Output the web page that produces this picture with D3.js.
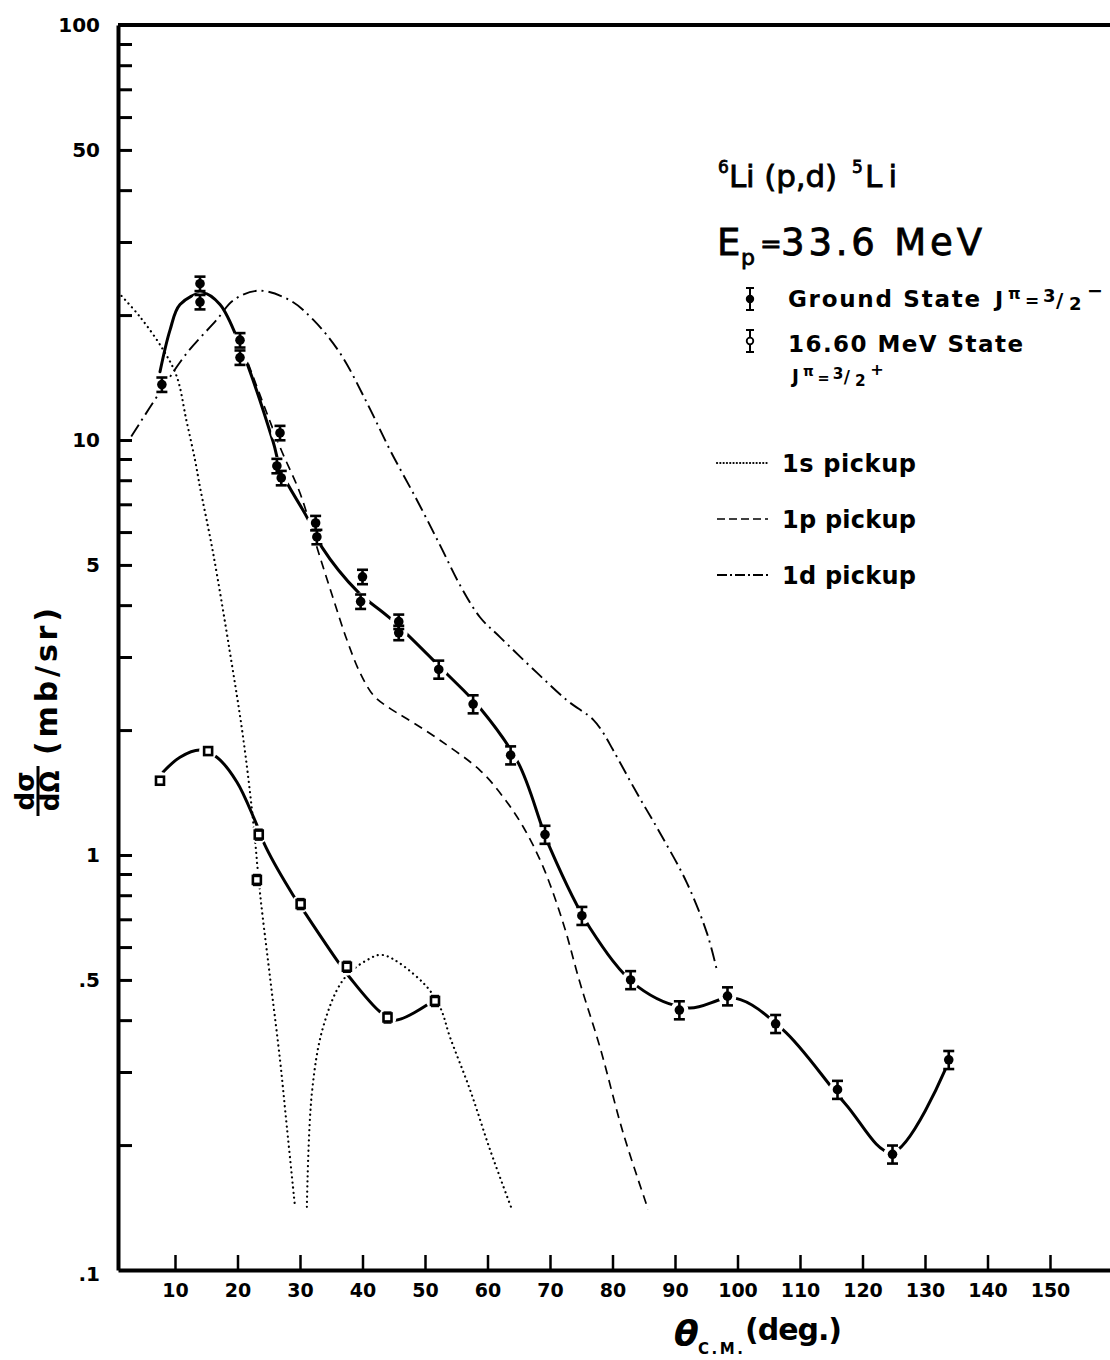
<!DOCTYPE html>
<html>
<head>
<meta charset="utf-8">
<script src="https://cdn.jsdelivr.net/npm/d3@7"></script>
<style>
  body { margin: 0; background: #fff; }
  svg text { font-family: "DejaVu Sans", sans-serif; fill: #000; }
</style>
</head>
<body>
<div id="chart"></div>
<script>
// 6Li(p,d)5Li at Ep = 33.6 MeV, angles in degrees (c.m.), dsigma/dOmega in mb/sr

// ground state data (two readings at several angles)
var groundAngles = [7.9, 14.0, 14.0, 20.4, 20.4, 26.8, 26.3, 27.0, 32.5, 32.7, 40.0, 39.7, 45.8, 45.8,
  52.2, 57.7, 63.7, 69.2, 75.1, 82.9, 90.7, 98.4, 106.1, 116.0, 124.8, 133.8];
var groundValues = [13.6, 23.8, 21.5, 17.4, 15.8, 10.4, 8.66, 8.10, 6.31, 5.84, 4.68, 4.08, 3.65, 3.43,
  2.80, 2.31, 1.74, 1.12, 0.714, 0.500, 0.423, 0.457, 0.392, 0.272, 0.190, 0.321];
var groundErrPct = [4, 4, 4, 4, 4, 4, 4, 4, 4, 4, 4, 4, 4, 4,
  5, 5, 5, 5, 5, 5, 5, 5, 5, 5, 5, 5];

// 16.60 MeV state data
var excitedAngles = [7.6, 15.3, 23.4, 23.1, 30.1, 37.5, 44.0, 51.6];
var excitedValues = [1.51, 1.78, 1.12, 0.871, 0.762, 0.538, 0.406, 0.445];
var excitedErrPct = [2, 2, 3, 3, 3, 3, 3, 3];

// hand drawn curve through the ground state points
var groundFitAngles = [7.6, 9.2, 10.8, 14.5, 17.2, 20.4, 25.7, 27.0, 31.1, 33.5, 39.3, 44.4, 53.2, 58.8,
  64.9, 70.0, 76.4, 84.1, 92.1, 99.6, 107.3, 117.2, 124.7, 133.2];
var groundFitValues = [14.6, 18.4, 21.2, 22.6, 21.2, 16.9, 9.9, 8.4, 6.52, 5.52, 4.30, 3.72, 2.76, 2.26,
  1.67, 1.04, 0.667, 0.481, 0.428, 0.452, 0.379, 0.252, 0.192, 0.303];

// hand drawn curve through the 16.60 MeV points
var excitedFitAngles = [8.1, 10.8, 14.0, 16.7, 19.9, 22.8, 24.6, 28.9, 30.8, 35.9, 38.0, 42.8, 45.2, 50.3];
var excitedFitValues = [1.585, 1.72, 1.79, 1.72, 1.50, 1.21, 1.04, 0.80, 0.725, 0.558, 0.506, 0.419, 0.400, 0.435];

// 1s pickup (two lobes)
var s1AAngles = [0.9, 4.4, 8.1, 10.3, 11.8, 13.2, 14.0, 16.1, 18.8, 20.9, 22.5, 23.6, 25.2, 26.8, 27.9, 29.2];
var s1AValues = [22.7, 19.8, 16.5, 14.2, 11.2, 8.95, 7.7, 5.34, 3.07, 1.92, 1.21, 0.81, 0.508, 0.321, 0.221, 0.142];
var s1BAngles = [31.1, 31.9, 33.7, 36.9, 40.7, 43.3, 49.7, 52.4, 54.0, 57.2, 60.4, 63.9];
var s1BValues = [0.142, 0.267, 0.385, 0.50, 0.558, 0.574, 0.492, 0.43, 0.364, 0.272, 0.195, 0.14];

// 1p pickup
var p1Angles = [20.9, 26.8, 30.0, 32.7, 35.2, 37.5, 39.6, 41.8, 44.5, 47.1, 52.4, 58.8, 62.5, 65.7, 68.9,
  72.1, 74.8, 78.0, 81.7, 85.7];
var p1Values = [16.5, 9.62, 7.45, 5.52, 4.2, 3.30, 2.75, 2.42, 2.25, 2.13, 1.89, 1.60, 1.38, 1.17, 0.936,
  0.686, 0.492, 0.344, 0.214, 0.14];

// 1d pickup
var d1Angles = [3.0, 8.1, 11.9, 16.7, 19.3, 23.4, 28.4, 32.1, 36.4, 40.7, 44.4, 48.7, 52.4, 55.6, 58.8,
  62.0, 67.9, 72.7, 76.9, 78.5, 80.1, 83.9, 87.6, 91.9, 95.1, 96.7];
var d1Values = [10.2, 13.4, 16.2, 19.5, 21.7, 22.9, 21.7, 19.5, 16.2, 12.3, 9.46, 7.17, 5.58, 4.47, 3.74,
  3.35, 2.75, 2.36, 2.12, 1.97, 1.79, 1.41, 1.13, 0.857, 0.649, 0.528];

// ticks
var xTicks = [10, 20, 30, 40, 50, 60, 70, 80, 90, 100, 110, 120, 130, 140, 150];
var yTicks = [0.2, 0.3, 0.4, 0.5, 0.6, 0.7, 0.8, 0.9, 1, 2, 3, 4, 5, 6, 7, 8, 9, 10,
  20, 30, 40, 50, 60, 70, 80, 90];
var yLabelValues = [0.1, 0.5, 1, 5, 10, 50, 100];
var yLabelText = [".1", ".5", "1", "5", "10", "50", "100"];

var svgWidth = 1110;
var svgHeight = 1360;

var svg = d3.select("#chart")
  .append("svg")
  .attr("width", svgWidth)
  .attr("height", svgHeight)
  .attr("font-weight", "bold")
  .style("background", "#fff");

var x = d3.scaleLinear().domain([0.88, 159.6]).range([118, 1110]);
var y = d3.scaleLog().domain([0.1, 100]).range([1270, 25]);

// axes
var bottomAxis = d3.axisBottom(x)
  .tickValues(xTicks)
  .tickSize(-15)
  .tickSizeOuter(0)
  .tickPadding(14);

var xAxis = svg.append("g")
  .attr("transform", `translate(0, ${y(0.1)})`)
  .call(bottomAxis);
xAxis.select(".domain").attr("stroke-width", 4);
xAxis.selectAll(".tick line").attr("stroke-width", 2.5);
xAxis.selectAll(".tick text")
  .attr("font-size", 19)
  .attr("font-family", "DejaVu Sans, sans-serif")
  .attr("font-weight", "bold");

var leftAxis = d3.axisLeft(y)
  .tickValues(yTicks)
  .tickSize(-14)
  .tickSizeOuter(0)
  .tickFormat("");

var yAxis = svg.append("g")
  .attr("transform", `translate(${x.range()[0]}, 0)`)
  .call(leftAxis);
yAxis.select(".domain").attr("stroke-width", 4);
yAxis.selectAll(".tick line").attr("stroke-width", 3);

// y labels incl. the ends of the axis
svg.append("g").selectAll("text")
  .data(yLabelValues)
  .enter().append("text")
  .attr("x", 100)
  .attr("y", d => y(d) + (d === 0.1 ? 4 : 0))
  .attr("dy", "0.36em")
  .attr("text-anchor", "end")
  .attr("font-size", 20)
  .text((d, i) => yLabelText[i]);

// top frame
svg.append("line")
  .attr("x1", x.range()[0]).attr("x2", x.range()[1])
  .attr("y1", y(100)).attr("y2", y(100))
  .attr("stroke", "#000").attr("stroke-width", 4);

var line = d3.line()
  .x(d => x(d[0]))
  .y(d => y(d[1]))
  .curve(d3.curveCatmullRom.alpha(0.5));

var styles = {
  dotted: { width: 2.2, dash: "0.1,5", cap: "round" },
  dashed: { width: 1.7, dash: "9,6", cap: "butt" },
  dashdot: { width: 1.9, dash: "14,5,2,5", cap: "butt" },
  solid: { width: 3, dash: null, cap: "round" }
};

function drawCurve(angles, values, st) {
  svg.append("path")
    .datum(d3.zip(angles, values))
    .attr("d", line)
    .attr("fill", "none")
    .attr("stroke", "#000")
    .attr("stroke-width", st.width)
    .attr("stroke-linecap", st.cap)
    .attr("stroke-dasharray", st.dash);
}

drawCurve(s1AAngles, s1AValues, styles.dotted);
drawCurve(s1BAngles, s1BValues, styles.dotted);
drawCurve(p1Angles, p1Values, styles.dashed);
drawCurve(d1Angles, d1Values, styles.dashdot);
drawCurve(groundFitAngles, groundFitValues, styles.solid);
drawCurve(excitedFitAngles, excitedFitValues, styles.solid);

// points
var ground = d3.zip(groundAngles, groundValues, groundErrPct);
var excited = d3.zip(excitedAngles, excitedValues, excitedErrPct);

// white gaps where the curves meet the symbols
svg.append("g").selectAll("circle")
  .data(ground.concat(excited))
  .enter().append("circle")
  .attr("cx", d => x(d[0]))
  .attr("cy", d => y(d[1]))
  .attr("r", 9)
  .attr("fill", "#fff");

function errorBars(data, width, sw) {
  var g = svg.append("g").attr("stroke", "#000").attr("stroke-width", sw);
  data.forEach(d => {
    var cx = x(d[0]);
    var top = y(d[1] * (1 + d[2] / 100));
    var bot = y(d[1] * (1 - d[2] / 100));
    g.append("line").attr("x1", cx).attr("x2", cx).attr("y1", top).attr("y2", bot);
    g.append("line").attr("x1", cx - width / 2).attr("x2", cx + width / 2).attr("y1", top).attr("y2", top);
    g.append("line").attr("x1", cx - width / 2).attr("x2", cx + width / 2).attr("y1", bot).attr("y2", bot);
  });
}

errorBars(ground, 11, 2.6);
svg.append("g").selectAll("circle")
  .data(ground)
  .enter().append("circle")
  .attr("cx", d => x(d[0]))
  .attr("cy", d => y(d[1]))
  .attr("r", 4.8)
  .attr("fill", "#000");

errorBars(excited, 8, 1.6);
svg.append("g").selectAll("rect")
  .data(excited)
  .enter().append("rect")
  .attr("x", d => x(d[0]) - 4)
  .attr("y", d => y(d[1]) - 4)
  .attr("width", 8)
  .attr("height", 8)
  .attr("fill", "#fff")
  .attr("stroke", "#000")
  .attr("stroke-width", 2.6);

// title (regular face, slightly thickened like the lettering)
var title = svg.append("g")
  .attr("font-weight", "normal")
  .attr("stroke", "#000")
  .attr("stroke-width", 0.8);
title.append("text").attr("x", 718).attr("y", 173).attr("font-size", 17).text("6");
title.append("text").attr("x", 729).attr("y", 187).attr("font-size", 31)
  .attr("textLength", 108).attr("lengthAdjust", "spacing").text("Li (p,d)");
title.append("text").attr("x", 852).attr("y", 173).attr("font-size", 17).text("5");
title.append("text").attr("x", 865).attr("y", 187).attr("font-size", 31)
  .attr("textLength", 32).attr("lengthAdjust", "spacing").text("Li");

title.append("text").attr("x", 717).attr("y", 255).attr("font-size", 37).text("E");
title.append("text").attr("x", 741).attr("y", 265).attr("font-size", 22).text("p");
title.append("text").attr("x", 760).attr("y", 253).attr("font-size", 26).text("=");
title.append("text").attr("x", 781).attr("y", 255).attr("font-size", 37)
  .attr("textLength", 201).attr("lengthAdjust", "spacing").text("33.6 MeV");

// legend: data symbols
var legend = svg.append("g");
function legendSymbol(cx, cy, filled) {
  var g = legend.append("g").attr("stroke", "#000").attr("stroke-width", 2);
  g.append("line").attr("x1", cx).attr("x2", cx).attr("y1", cy - 11).attr("y2", cy + 11);
  g.append("line").attr("x1", cx - 4).attr("x2", cx + 4).attr("y1", cy - 11).attr("y2", cy - 11);
  g.append("line").attr("x1", cx - 4).attr("x2", cx + 4).attr("y1", cy + 11).attr("y2", cy + 11);
  g.append("circle").attr("cx", cx).attr("cy", cy).attr("r", 3.3)
    .attr("fill", filled ? "#000" : "#fff").attr("stroke-width", 1.8);
}
legendSymbol(750, 299, true);
legendSymbol(750, 341, false);

legend.append("text").attr("x", 788).attr("y", 307).attr("font-size", 23)
  .attr("textLength", 192).attr("lengthAdjust", "spacing").text("Ground State");

// J^pi = 3/2 with sign, s scales the whole group
function jpi(x0, yb, s, sign) {
  var parts = [
    { t: "J", dx: 0, dy: 0, fs: 22 },
    { t: "π", dx: 13, dy: -8, fs: 16 },
    { t: "=", dx: 30, dy: 0, fs: 17 },
    { t: "3", dx: 48, dy: -5, fs: 18 },
    { t: "/", dx: 61, dy: 0, fs: 20 },
    { t: "2", dx: 74, dy: 3, fs: 18 },
    { t: sign, dx: 92, dy: -10, fs: 19 }
  ];
  parts.forEach(p => {
    legend.append("text")
      .attr("x", x0 + p.dx * s)
      .attr("y", yb + p.dy * s)
      .attr("font-size", p.fs * s)
      .text(p.t);
  });
}
jpi(995, 307, 1, "−");
legend.append("text").attr("x", 788).attr("y", 352).attr("font-size", 23)
  .attr("textLength", 235).attr("lengthAdjust", "spacing").text("16.60 MeV State");
jpi(792, 383, 0.85, "+");

// legend: curves
var legendCurves = [
  { label: "1s pickup", st: styles.dotted, dash: "0.1,3.2", yl: 463 },
  { label: "1p pickup", st: styles.dashed, dash: "8,4", yl: 519 },
  { label: "1d pickup", st: styles.dashdot, dash: "10,3,2,3", yl: 575 }
];
legendCurves.forEach(c => {
  legend.append("line")
    .attr("x1", 717).attr("x2", 768)
    .attr("y1", c.yl).attr("y2", c.yl)
    .attr("stroke", "#000")
    .attr("stroke-width", c.st.width)
    .attr("stroke-linecap", c.st.cap)
    .attr("stroke-dasharray", c.dash);
  legend.append("text").attr("x", 782).attr("y", c.yl + 9).attr("font-size", 24)
    .attr("textLength", 134).attr("lengthAdjust", "spacing").text(c.label);
});

// axis titles
var yTitle = svg.append("g").attr("transform", "translate(57, 755) rotate(-90)");
yTitle.append("text").attr("x", 0).attr("y", 0).attr("font-size", 30)
  .attr("textLength", 147).attr("lengthAdjust", "spacing").text("(mb/sr)");
yTitle.append("text").attr("x", -36).attr("y", -23).attr("text-anchor", "middle").attr("font-size", 26).text("dσ");
yTitle.append("line").attr("x1", -61).attr("x2", -11).attr("y1", -19).attr("y2", -19)
  .attr("stroke", "#000").attr("stroke-width", 3);
yTitle.append("text").attr("x", -36).attr("y", 2).attr("text-anchor", "middle").attr("font-size", 26).text("dΩ");

svg.append("text").attr("x", 674).attr("y", 1346).attr("font-size", 36).attr("font-style", "italic").text("θ");
svg.append("text").attr("x", 698).attr("y", 1354).attr("font-size", 15)
  .attr("textLength", 45).attr("lengthAdjust", "spacing").text("C.M.");
svg.append("text").attr("x", 745).attr("y", 1340).attr("font-size", 30)
  .attr("textLength", 97).attr("lengthAdjust", "spacing").text("(deg.)");
</script>
</body>
</html>
